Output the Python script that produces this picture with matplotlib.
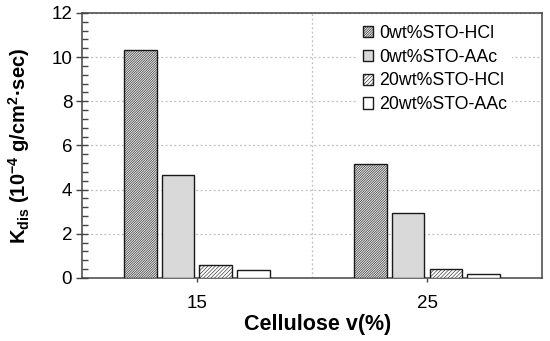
import matplotlib
matplotlib.use("Agg")
import matplotlib.pyplot as plt
import numpy as np
from matplotlib.ticker import MultipleLocator, AutoMinorLocator

plt.rcParams['font.family'] = ['Liberation Sans', 'DejaVu Sans']
plt.rcParams['mathtext.fontset'] = 'custom'
plt.rcParams['mathtext.rm'] = 'Liberation Sans'
plt.rcParams['mathtext.bf'] = 'Liberation Sans:bold'
plt.rcParams['mathtext.it'] = 'Liberation Sans:italic'
plt.rcParams['hatch.linewidth'] = 0.4

categories = ['15', '25']
series_names = ['0wt%STO-HCl', '0wt%STO-AAc', '20wt%STO-HCl', '20wt%STO-AAc']
values = {
    '0wt%STO-HCl': [10.3, 5.15],
    '0wt%STO-AAc': [4.67, 2.92],
    '20wt%STO-HCl': [0.57, 0.41],
    '20wt%STO-AAc': [0.38, 0.19],
}
styles = {
    '0wt%STO-HCl': dict(facecolor='#e6e6e6', hatch='/' * 14),
    '0wt%STO-AAc': dict(facecolor='#d9d9d9', hatch=None),
    '20wt%STO-HCl': dict(facecolor='white', hatch='/' * 9),
    '20wt%STO-AAc': dict(facecolor='white', hatch=None),
}

fig = plt.figure(figsize=(5.5, 3.41), dpi=100)
ax = fig.add_axes([0.149, 0.185, 0.8365, 0.777])

x = np.arange(len(categories))
step = 0.164
width = 0.142
for i, name in enumerate(series_names):
    st = styles[name]
    ax.bar(x + (i - 1.5) * step, values[name], width, facecolor=st['facecolor'],
           hatch=st['hatch'], edgecolor='#1a1a1a', linewidth=1.0, label=name, zorder=3)

ax.set_xlim(-0.5, 1.5)
ax.set_ylim(0, 12)
ax.set_xticks(x)
ax.set_xticklabels(categories)
ax.set_xticks([0.5], minor=True)
ax.yaxis.set_major_locator(MultipleLocator(2))
ax.yaxis.set_minor_locator(AutoMinorLocator(5))

ax.grid(True, which='major', axis='y', linestyle=(0, (1.5, 2)), color='#bfbfbf', linewidth=0.9, zorder=0)
ax.grid(True, which='minor', axis='x', linestyle=(0, (1.5, 2)), color='#bfbfbf', linewidth=0.9, zorder=0)

for sp in ax.spines.values():
    sp.set_color('#444444')
    sp.set_linewidth(1.1)

ax.tick_params(axis='y', which='major', direction='inout', length=8, width=1, color='#444444',
               labelsize=13.5, pad=3)
ax.tick_params(axis='y', which='minor', direction='in', length=4, width=1, color='#444444')
ax.tick_params(axis='x', which='major', direction='out', length=3, width=1, color='#444444',
               labelsize=13.5, pad=9)
ax.tick_params(axis='x', which='minor', length=0)

ax.set_xlabel('Cellulose v(%)', fontsize=15.5, fontweight='bold')
ax.xaxis.set_label_coords(0.513, -0.135)
ax.set_ylabel(r'K$_{\mathbf{dis}}$ (10$^{\mathbf{-4}}$ g/cm$^{\mathbf{2}}$·sec)', fontsize=14.5,
              fontweight='bold', labelpad=14)

leg = ax.legend(loc='upper right', fontsize=12.8, frameon=True, fancybox=False,
                bbox_to_anchor=(0.935, 0.975), borderaxespad=0,
                handlelength=0.6, handleheight=0.6, handletextpad=0.3,
                labelspacing=0.38, borderpad=0.3, framealpha=1)
leg.get_frame().set_edgecolor('none')
leg.get_frame().set_linewidth(0)

fig.savefig('out.png', dpi=100)
